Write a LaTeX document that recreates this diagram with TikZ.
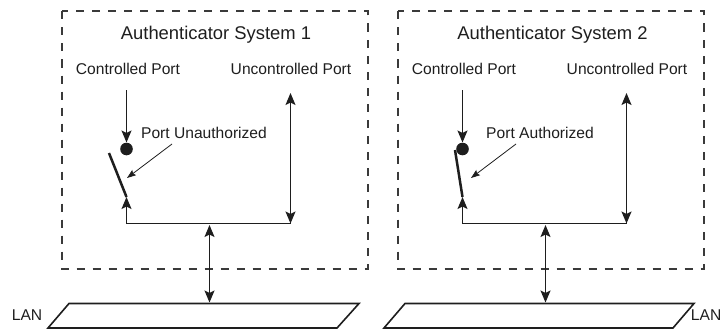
\documentclass[tikz,border=0pt]{standalone}
\usepackage{fontspec}
\setmainfont{Liberation Sans}
\usetikzlibrary{arrows.meta}
\definecolor{ink}{HTML}{1E1E1E}
\definecolor{boxink}{HTML}{3A3A3A}
\tikzset{
  x=1pt,y=-1pt,
  lbl/.style={text=ink,inner sep=0pt,font=\fontsize{15.6}{18}\selectfont},
  title/.style={lbl,font=\fontsize{18.4}{21}\selectfont},
  sysbox/.style={draw=boxink,line width=2pt,dash pattern=on 8pt off 8pt},
  conn/.style={draw=ink,line width=1.4pt},
  oneway/.style={conn,-{Stealth[length=12pt,width=10pt,inset=2.5pt]}},
  twoway/.style={conn,{Stealth[length=12pt,width=10pt,inset=2.5pt]}-{Stealth[length=12pt,width=10pt,inset=2.5pt]}},
  leader/.style={draw=ink,line width=0.8pt,-{Stealth[length=9pt,width=6.5pt,inset=1.5pt]}},
  dotnode/.style={circle,fill=ink,inner sep=0pt,minimum size=12.6pt},
  swbar/.style={draw=ink,line width=2.5pt},
  lanbox/.style={draw=ink,line width=1.6pt,line join=miter},
}
\begin{document}
\begin{tikzpicture}
\useasboundingbox (0,0) rectangle (722,329);
% --- System 1
\draw[sysbox] (61.5,11.5) rectangle (367.5,268.5);
\node[title] (t1) at (216,35) {Authenticator System 1};
\node[lbl] (cp1) at (128,69) {Controlled Port};
\node[lbl] (up1) at (291,69) {Uncontrolled Port};
\node[lbl] (pu1) at (204,133) {Port Unauthorized};
\node[dotnode] (dot1) at (126.5,149) {};
\coordinate (cs1) at (126.5,90);
\coordinate (swa1) at (109,153);
\coordinate (swb1) at (126.5,197);
\coordinate (cor1) at (126.5,223.5);
\coordinate (cor1r) at (290.5,223.5);
\coordinate (utop1) at (290.5,93);
\coordinate (j1) at (209.5,225);
\coordinate (l1) at (209.5,302.5);
\coordinate (lead1a) at (172,144);
\coordinate (lead1b) at (127,178);
\draw[oneway] (cs1) -- (dot1.north);
\draw[swbar] (swa1) -- (swb1);
\draw[oneway] (cor1r) -- (cor1) -- (swb1);
\draw[twoway] (utop1) -- (cor1r);
\draw[twoway] (j1) -- (l1);
\draw[leader] (lead1a) -- (lead1b);
\draw[lanbox] (69,303.5) -- (359,303.5) -- (337,328) -- (48,328) -- cycle;
\node[lbl] (lan1) at (27,315) {LAN};
% --- System 2
\draw[sysbox] (397.5,11.5) rectangle (703.5,268.5);
\node[title] (t2) at (552.5,35) {Authenticator System 2};
\node[lbl] (cp2) at (464,69) {Controlled Port};
\node[lbl] (up2) at (627,69) {Uncontrolled Port};
\node[lbl] (pu2) at (540,133) {Port Authorized};
\node[dotnode] (dot2) at (462.5,149) {};
\coordinate (cs2) at (462.5,90);
\coordinate (swa2) at (455,150);
\coordinate (swb2) at (462.5,197);
\coordinate (cor2) at (462.5,223.5);
\coordinate (cor2r) at (626.5,223.5);
\coordinate (utop2) at (626.5,93);
\coordinate (j2) at (545.5,225);
\coordinate (l2) at (545.5,302.5);
\coordinate (lead2a) at (516,144);
\coordinate (lead2b) at (471,178);
\draw[oneway] (cs2) -- (dot2.north);
\draw[swbar] (swa2) -- (swb2);
\draw[oneway] (cor2r) -- (cor2) -- (swb2);
\draw[twoway] (utop2) -- (cor2r);
\draw[twoway] (j2) -- (l2);
\draw[leader] (lead2a) -- (lead2b);
\draw[lanbox] (405,303.5) -- (694,303.5) -- (673,328) -- (384,328) -- cycle;
\node[lbl,anchor=east] (lan2) at (721.5,315) {LAN};
\end{tikzpicture}
\end{document}
